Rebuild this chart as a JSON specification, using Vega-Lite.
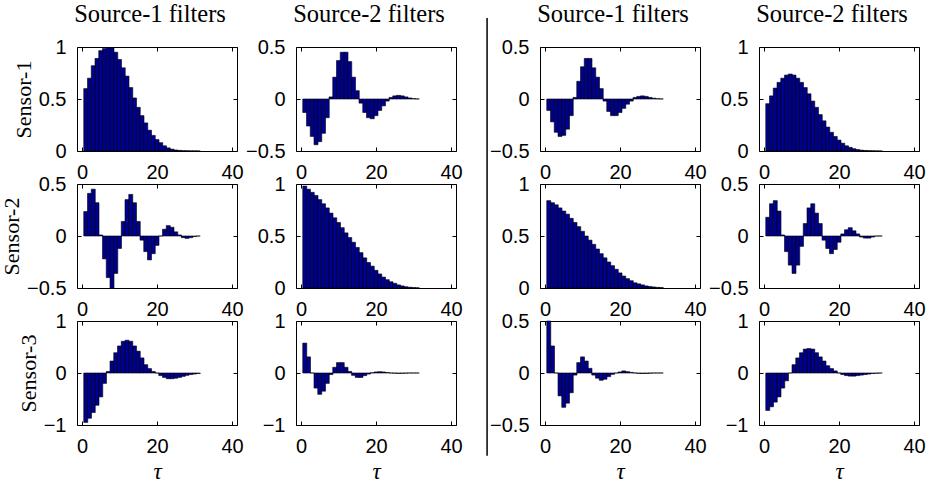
{
  "$schema": "https://vega.github.io/schema/vega-lite/v6.json",
  "background": "white",
  "padding": {"left": 0, "top": 1, "right": 0, "bottom": 2},
  "config": {
    "view": {"stroke": "black", "strokeWidth": 1},
    "axis": {"domain": false, "grid": false, "ticks": true, "tickSize": -4, "tickColor": "black", "tickWidth": 1,
      "labelFont": "Liberation Sans", "labelFontSize": 20, "labelColor": "black", "labelPadding": 15,
      "labelFlush": false, "labelOverlap": false,
      "titleFont": "Liberation Serif", "titleFontWeight": "normal", "titleColor": "black"},
    "axisX": {"titleFontSize": 23, "titlePadding": 4},
    "axisY": {"titleFontSize": 22, "titlePadding": 3},
    "title": {"font": "Liberation Serif", "fontSize": 24.5, "fontWeight": "normal", "color": "black", "frame": "group", "anchor": "middle", "offset": 10, "dx": -7}
  },
  "datasets": {
    "p11": [{"t":1,"v":0.6},{"t":2,"v":0.7},{"t":3,"v":0.82},{"t":4,"v":0.89},{"t":5,"v":0.965},{"t":6,"v":0.985},{"t":7,"v":0.995},{"t":8,"v":0.99},{"t":9,"v":0.95},{"t":10,"v":0.88},{"t":11,"v":0.8},{"t":12,"v":0.72},{"t":13,"v":0.61},{"t":14,"v":0.51},{"t":15,"v":0.42},{"t":16,"v":0.34},{"t":17,"v":0.27},{"t":18,"v":0.2},{"t":19,"v":0.15},{"t":20,"v":0.11},{"t":21,"v":0.08},{"t":22,"v":0.05},{"t":23,"v":0.03},{"t":24,"v":0.018},{"t":25,"v":0.01},{"t":26,"v":0.006},{"t":27,"v":0.003},{"t":28,"v":0.002},{"t":29,"v":0.001},{"t":30,"v":0.001},{"t":31,"v":0.0005}],
    "p12": [{"t":1,"v":-0.13},{"t":2,"v":-0.26},{"t":3,"v":-0.36},{"t":4,"v":-0.44},{"t":5,"v":-0.41},{"t":6,"v":-0.33},{"t":7,"v":-0.18},{"t":8,"v":0.02},{"t":9,"v":0.21},{"t":10,"v":0.37},{"t":11,"v":0.45},{"t":12,"v":0.45},{"t":13,"v":0.36},{"t":14,"v":0.21},{"t":15,"v":0.08},{"t":16,"v":-0.04},{"t":17,"v":-0.13},{"t":18,"v":-0.18},{"t":19,"v":-0.19},{"t":20,"v":-0.16},{"t":21,"v":-0.11},{"t":22,"v":-0.066},{"t":23,"v":-0.02},{"t":24,"v":0.015},{"t":25,"v":0.03},{"t":26,"v":0.035},{"t":27,"v":0.03},{"t":28,"v":0.02},{"t":29,"v":0.01},{"t":30,"v":0.004},{"t":31,"v":0.001}],
    "p13": [{"t":1,"v":-0.11},{"t":2,"v":-0.22},{"t":3,"v":-0.32},{"t":4,"v":-0.36},{"t":5,"v":-0.35},{"t":6,"v":-0.29},{"t":7,"v":-0.16},{"t":8,"v":0.015},{"t":9,"v":0.17},{"t":10,"v":0.31},{"t":11,"v":0.39},{"t":12,"v":0.39},{"t":13,"v":0.3},{"t":14,"v":0.21},{"t":15,"v":0.1},{"t":16,"v":-0.02},{"t":17,"v":-0.12},{"t":18,"v":-0.16},{"t":19,"v":-0.16},{"t":20,"v":-0.13},{"t":21,"v":-0.09},{"t":22,"v":-0.05},{"t":23,"v":-0.02},{"t":24,"v":0.015},{"t":25,"v":0.025},{"t":26,"v":0.03},{"t":27,"v":0.025},{"t":28,"v":0.015},{"t":29,"v":0.008},{"t":30,"v":0.003},{"t":31,"v":0.001}],
    "p14": [{"t":1,"v":0.455},{"t":2,"v":0.53},{"t":3,"v":0.605},{"t":4,"v":0.66},{"t":5,"v":0.7},{"t":6,"v":0.73},{"t":7,"v":0.74},{"t":8,"v":0.73},{"t":9,"v":0.7},{"t":10,"v":0.66},{"t":11,"v":0.61},{"t":12,"v":0.55},{"t":13,"v":0.48},{"t":14,"v":0.42},{"t":15,"v":0.35},{"t":16,"v":0.29},{"t":17,"v":0.23},{"t":18,"v":0.18},{"t":19,"v":0.14},{"t":20,"v":0.105},{"t":21,"v":0.075},{"t":22,"v":0.05},{"t":23,"v":0.035},{"t":24,"v":0.022},{"t":25,"v":0.014},{"t":26,"v":0.008},{"t":27,"v":0.005},{"t":28,"v":0.003},{"t":29,"v":0.002},{"t":30,"v":0.001},{"t":31,"v":0.0005}],
    "p21": [{"t":1,"v":0.235},{"t":2,"v":0.41},{"t":3,"v":0.45},{"t":4,"v":0.32},{"t":5,"v":0.01},{"t":6,"v":-0.22},{"t":7,"v":-0.4},{"t":8,"v":-0.5},{"t":9,"v":-0.36},{"t":10,"v":-0.12},{"t":11,"v":0.14},{"t":12,"v":0.35},{"t":13,"v":0.4},{"t":14,"v":0.32},{"t":15,"v":0.14},{"t":16,"v":-0.04},{"t":17,"v":-0.15},{"t":18,"v":-0.23},{"t":19,"v":-0.17},{"t":20,"v":-0.09},{"t":21,"v":0.0},{"t":22,"v":0.065},{"t":23,"v":0.1},{"t":24,"v":0.084},{"t":25,"v":0.04},{"t":26,"v":0.01},{"t":27,"v":-0.016},{"t":28,"v":-0.023},{"t":29,"v":-0.016},{"t":30,"v":-0.006},{"t":31,"v":0.0}],
    "p22": [{"t":1,"v":0.98},{"t":2,"v":0.95},{"t":3,"v":0.92},{"t":4,"v":0.89},{"t":5,"v":0.85},{"t":6,"v":0.81},{"t":7,"v":0.77},{"t":8,"v":0.72},{"t":9,"v":0.675},{"t":10,"v":0.63},{"t":11,"v":0.58},{"t":12,"v":0.53},{"t":13,"v":0.485},{"t":14,"v":0.44},{"t":15,"v":0.39},{"t":16,"v":0.34},{"t":17,"v":0.29},{"t":18,"v":0.245},{"t":19,"v":0.21},{"t":20,"v":0.17},{"t":21,"v":0.135},{"t":22,"v":0.105},{"t":23,"v":0.08},{"t":24,"v":0.06},{"t":25,"v":0.045},{"t":26,"v":0.03},{"t":27,"v":0.02},{"t":28,"v":0.012},{"t":29,"v":0.007},{"t":30,"v":0.004},{"t":31,"v":0.002}],
    "p23": [{"t":1,"v":0.84},{"t":2,"v":0.82},{"t":3,"v":0.8},{"t":4,"v":0.77},{"t":5,"v":0.74},{"t":6,"v":0.71},{"t":7,"v":0.67},{"t":8,"v":0.63},{"t":9,"v":0.59},{"t":10,"v":0.545},{"t":11,"v":0.5},{"t":12,"v":0.46},{"t":13,"v":0.42},{"t":14,"v":0.375},{"t":15,"v":0.33},{"t":16,"v":0.29},{"t":17,"v":0.25},{"t":18,"v":0.215},{"t":19,"v":0.18},{"t":20,"v":0.145},{"t":21,"v":0.115},{"t":22,"v":0.09},{"t":23,"v":0.07},{"t":24,"v":0.05},{"t":25,"v":0.04},{"t":26,"v":0.03},{"t":27,"v":0.02},{"t":28,"v":0.014},{"t":29,"v":0.01},{"t":30,"v":0.006},{"t":31,"v":0.004}],
    "p24": [{"t":1,"v":0.18},{"t":2,"v":0.31},{"t":3,"v":0.34},{"t":4,"v":0.24},{"t":5,"v":0.01},{"t":6,"v":-0.15},{"t":7,"v":-0.28},{"t":8,"v":-0.36},{"t":9,"v":-0.28},{"t":10,"v":-0.1},{"t":11,"v":0.12},{"t":12,"v":0.27},{"t":13,"v":0.31},{"t":14,"v":0.22},{"t":15,"v":0.12},{"t":16,"v":-0.04},{"t":17,"v":-0.12},{"t":18,"v":-0.17},{"t":19,"v":-0.13},{"t":20,"v":-0.06},{"t":21,"v":0.02},{"t":22,"v":0.06},{"t":23,"v":0.08},{"t":24,"v":0.05},{"t":25,"v":0.02},{"t":26,"v":-0.01},{"t":27,"v":-0.02},{"t":28,"v":-0.02},{"t":29,"v":-0.01},{"t":30,"v":0.0},{"t":31,"v":0.0}],
    "p31": [{"t":1,"v":-0.95},{"t":2,"v":-0.87},{"t":3,"v":-0.76},{"t":4,"v":-0.62},{"t":5,"v":-0.46},{"t":6,"v":-0.2},{"t":7,"v":0.03},{"t":8,"v":0.23},{"t":9,"v":0.39},{"t":10,"v":0.52},{"t":11,"v":0.61},{"t":12,"v":0.63},{"t":13,"v":0.61},{"t":14,"v":0.52},{"t":15,"v":0.42},{"t":16,"v":0.29},{"t":17,"v":0.16},{"t":18,"v":0.085},{"t":19,"v":0.03},{"t":20,"v":0.0},{"t":21,"v":-0.05},{"t":22,"v":-0.085},{"t":23,"v":-0.11},{"t":24,"v":-0.11},{"t":25,"v":-0.1},{"t":26,"v":-0.085},{"t":27,"v":-0.065},{"t":28,"v":-0.045},{"t":29,"v":-0.03},{"t":30,"v":-0.02},{"t":31,"v":-0.01}],
    "p32": [{"t":1,"v":0.575},{"t":2,"v":0.31},{"t":3,"v":0.0},{"t":4,"v":-0.29},{"t":5,"v":-0.41},{"t":6,"v":-0.35},{"t":7,"v":-0.2},{"t":8,"v":-0.03},{"t":9,"v":0.11},{"t":10,"v":0.2},{"t":11,"v":0.2},{"t":12,"v":0.11},{"t":13,"v":0.03},{"t":14,"v":-0.045},{"t":15,"v":-0.085},{"t":16,"v":-0.085},{"t":17,"v":-0.05},{"t":18,"v":-0.02},{"t":19,"v":0.005},{"t":20,"v":0.02},{"t":21,"v":0.025},{"t":22,"v":0.02},{"t":23,"v":0.01},{"t":24,"v":0.0},{"t":25,"v":-0.005},{"t":26,"v":-0.008},{"t":27,"v":-0.006},{"t":28,"v":-0.003},{"t":29,"v":0.0},{"t":30,"v":0.0},{"t":31,"v":0.0}],
    "p33": [{"t":1,"v":0.5},{"t":2,"v":0.26},{"t":3,"v":0.0},{"t":4,"v":-0.22},{"t":5,"v":-0.33},{"t":6,"v":-0.29},{"t":7,"v":-0.19},{"t":8,"v":-0.02},{"t":9,"v":0.1},{"t":10,"v":0.155},{"t":11,"v":0.115},{"t":12,"v":0.045},{"t":13,"v":-0.02},{"t":14,"v":-0.05},{"t":15,"v":-0.07},{"t":16,"v":-0.06},{"t":17,"v":-0.035},{"t":18,"v":-0.013},{"t":19,"v":0.0},{"t":20,"v":0.01},{"t":21,"v":0.02},{"t":22,"v":0.013},{"t":23,"v":0.006},{"t":24,"v":0.0},{"t":25,"v":-0.004},{"t":26,"v":-0.005},{"t":27,"v":-0.004},{"t":28,"v":-0.002},{"t":29,"v":0.0},{"t":30,"v":0.0},{"t":31,"v":0.0}],
    "p34": [{"t":1,"v":-0.72},{"t":2,"v":-0.65},{"t":3,"v":-0.56},{"t":4,"v":-0.46},{"t":5,"v":-0.29},{"t":6,"v":-0.15},{"t":7,"v":0.0},{"t":8,"v":0.16},{"t":9,"v":0.29},{"t":10,"v":0.39},{"t":11,"v":0.46},{"t":12,"v":0.47},{"t":13,"v":0.46},{"t":14,"v":0.39},{"t":15,"v":0.31},{"t":16,"v":0.23},{"t":17,"v":0.14},{"t":18,"v":0.085},{"t":19,"v":0.04},{"t":20,"v":0.0},{"t":21,"v":-0.03},{"t":22,"v":-0.05},{"t":23,"v":-0.06},{"t":24,"v":-0.06},{"t":25,"v":-0.05},{"t":26,"v":-0.04},{"t":27,"v":-0.03},{"t":28,"v":-0.02},{"t":29,"v":-0.01},{"t":30,"v":-0.005},{"t":31,"v":0.0}]
  },
  "columns": 7,
  "spacing": {"row": 33, "column": 0},
  "bounds": "flush",
  "align": "each",
  "concat": [
    {"width":160,"height":104,"data":{"name":"p11"},"title":{"text":"Source-1 filters"},
     "layer":[
      {"mark":{"type":"bar","orient":"vertical","width":4,"fill":"#00008F","stroke":"black","strokeWidth":0.6},
       "encoding":{"x":{"field":"t","type":"quantitative","scale":{"domain":[0,40],"nice":false,"zero":false},"axis":{"values":[0,20,40],"format":"d","title":null}},
                   "y":{"field":"v","type":"quantitative","scale":{"domain":[0,1],"nice":false},"axis":{"values":[0,0.5,1],"format":".1~f","title":"Sensor-1"}}}},
      {"mark":{"type":"point","opacity":0},
       "encoding":{"x":{"field":"t","type":"quantitative","axis":{"orient":"top","values":[0,20,40],"labels":false,"title":null}},
                   "y":{"field":"v","type":"quantitative","axis":{"orient":"right","values":[0,0.5,1],"labels":false,"title":null}}}}],
     "resolve":{"axis":{"x":"independent","y":"independent"}}},
    {"width":59,"height":104,"view":{"stroke":null},"data":{"values":[]},"mark":"rule","encoding":{}},
    {"width":160,"height":104,"data":{"name":"p12"},"title":{"text":"Source-2 filters"},
     "layer":[
      {"mark":{"type":"bar","orient":"vertical","width":4,"fill":"#00008F","stroke":"black","strokeWidth":0.6},
       "encoding":{"x":{"field":"t","type":"quantitative","scale":{"domain":[0,40],"nice":false,"zero":false},"axis":{"values":[0,20,40],"format":"d","title":null}},
                   "y":{"field":"v","type":"quantitative","scale":{"domain":[-0.5,0.5],"nice":false},"axis":{"values":[-0.5,0,0.5],"format":".1~f","title":null}}}},
      {"mark":{"type":"point","opacity":0},
       "encoding":{"x":{"field":"t","type":"quantitative","axis":{"orient":"top","values":[0,20,40],"labels":false,"title":null}},
                   "y":{"field":"v","type":"quantitative","axis":{"orient":"right","values":[-0.5,0,0.5],"labels":false,"title":null}}}}],
     "resolve":{"axis":{"x":"independent","y":"independent"}}},
    {"width":84,"height":104,"view":{"stroke":null},"data":{"values":[{}]},
     "mark":{"type":"rule","color":"black","strokeWidth":1.5},
     "encoding":{"x":{"datum":0.37,"type":"quantitative","scale":{"domain":[0,1]},"axis":null},
                 "y":{"datum":1.28,"type":"quantitative","scale":{"domain":[0,1]},"axis":null},
                 "y2":{"datum":-2.93}}},
    {"width":160,"height":104,"data":{"name":"p13"},"title":{"text":"Source-1 filters"},
     "layer":[
      {"mark":{"type":"bar","orient":"vertical","width":4,"fill":"#00008F","stroke":"black","strokeWidth":0.6},
       "encoding":{"x":{"field":"t","type":"quantitative","scale":{"domain":[0,40],"nice":false,"zero":false},"axis":{"values":[0,20,40],"format":"d","title":null}},
                   "y":{"field":"v","type":"quantitative","scale":{"domain":[-0.5,0.5],"nice":false},"axis":{"values":[-0.5,0,0.5],"format":".1~f","title":null}}}},
      {"mark":{"type":"point","opacity":0},
       "encoding":{"x":{"field":"t","type":"quantitative","axis":{"orient":"top","values":[0,20,40],"labels":false,"title":null}},
                   "y":{"field":"v","type":"quantitative","axis":{"orient":"right","values":[-0.5,0,0.5],"labels":false,"title":null}}}}],
     "resolve":{"axis":{"x":"independent","y":"independent"}}},
    {"width":59,"height":104,"view":{"stroke":null},"data":{"values":[]},"mark":"rule","encoding":{}},
    {"width":160,"height":104,"data":{"name":"p14"},"title":{"text":"Source-2 filters"},
     "layer":[
      {"mark":{"type":"bar","orient":"vertical","width":4,"fill":"#00008F","stroke":"black","strokeWidth":0.6},
       "encoding":{"x":{"field":"t","type":"quantitative","scale":{"domain":[0,40],"nice":false,"zero":false},"axis":{"values":[0,20,40],"format":"d","title":null}},
                   "y":{"field":"v","type":"quantitative","scale":{"domain":[0,1],"nice":false},"axis":{"values":[0,0.5,1],"format":".1~f","title":null}}}},
      {"mark":{"type":"point","opacity":0},
       "encoding":{"x":{"field":"t","type":"quantitative","axis":{"orient":"top","values":[0,20,40],"labels":false,"title":null}},
                   "y":{"field":"v","type":"quantitative","axis":{"orient":"right","values":[0,0.5,1],"labels":false,"title":null}}}}],
     "resolve":{"axis":{"x":"independent","y":"independent"}}},

    {"width":160,"height":104,"data":{"name":"p21"},
     "layer":[
      {"mark":{"type":"bar","orient":"vertical","width":4,"fill":"#00008F","stroke":"black","strokeWidth":0.6},
       "encoding":{"x":{"field":"t","type":"quantitative","scale":{"domain":[0,40],"nice":false,"zero":false},"axis":{"values":[0,20,40],"format":"d","title":null}},
                   "y":{"field":"v","type":"quantitative","scale":{"domain":[-0.5,0.5],"nice":false},"axis":{"values":[-0.5,0,0.5],"format":".1~f","title":"Sensor-2"}}}},
      {"mark":{"type":"point","opacity":0},
       "encoding":{"x":{"field":"t","type":"quantitative","axis":{"orient":"top","values":[0,20,40],"labels":false,"title":null}},
                   "y":{"field":"v","type":"quantitative","axis":{"orient":"right","values":[-0.5,0,0.5],"labels":false,"title":null}}}}],
     "resolve":{"axis":{"x":"independent","y":"independent"}}},
    {"width":59,"height":104,"view":{"stroke":null},"data":{"values":[]},"mark":"rule","encoding":{}},
    {"width":160,"height":104,"data":{"name":"p22"},
     "layer":[
      {"mark":{"type":"bar","orient":"vertical","width":4,"fill":"#00008F","stroke":"black","strokeWidth":0.6},
       "encoding":{"x":{"field":"t","type":"quantitative","scale":{"domain":[0,40],"nice":false,"zero":false},"axis":{"values":[0,20,40],"format":"d","title":null}},
                   "y":{"field":"v","type":"quantitative","scale":{"domain":[0,1],"nice":false},"axis":{"values":[0,0.5,1],"format":".1~f","title":null}}}},
      {"mark":{"type":"point","opacity":0},
       "encoding":{"x":{"field":"t","type":"quantitative","axis":{"orient":"top","values":[0,20,40],"labels":false,"title":null}},
                   "y":{"field":"v","type":"quantitative","axis":{"orient":"right","values":[0,0.5,1],"labels":false,"title":null}}}}],
     "resolve":{"axis":{"x":"independent","y":"independent"}}},
    {"width":84,"height":104,"view":{"stroke":null},"data":{"values":[]},"mark":"rule","encoding":{}},
    {"width":160,"height":104,"data":{"name":"p23"},
     "layer":[
      {"mark":{"type":"bar","orient":"vertical","width":4,"fill":"#00008F","stroke":"black","strokeWidth":0.6},
       "encoding":{"x":{"field":"t","type":"quantitative","scale":{"domain":[0,40],"nice":false,"zero":false},"axis":{"values":[0,20,40],"format":"d","title":null}},
                   "y":{"field":"v","type":"quantitative","scale":{"domain":[0,1],"nice":false},"axis":{"values":[0,0.5,1],"format":".1~f","title":null}}}},
      {"mark":{"type":"point","opacity":0},
       "encoding":{"x":{"field":"t","type":"quantitative","axis":{"orient":"top","values":[0,20,40],"labels":false,"title":null}},
                   "y":{"field":"v","type":"quantitative","axis":{"orient":"right","values":[0,0.5,1],"labels":false,"title":null}}}}],
     "resolve":{"axis":{"x":"independent","y":"independent"}}},
    {"width":59,"height":104,"view":{"stroke":null},"data":{"values":[]},"mark":"rule","encoding":{}},
    {"width":160,"height":104,"data":{"name":"p24"},
     "layer":[
      {"mark":{"type":"bar","orient":"vertical","width":4,"fill":"#00008F","stroke":"black","strokeWidth":0.6},
       "encoding":{"x":{"field":"t","type":"quantitative","scale":{"domain":[0,40],"nice":false,"zero":false},"axis":{"values":[0,20,40],"format":"d","title":null}},
                   "y":{"field":"v","type":"quantitative","scale":{"domain":[-0.5,0.5],"nice":false},"axis":{"values":[-0.5,0,0.5],"format":".1~f","title":null}}}},
      {"mark":{"type":"point","opacity":0},
       "encoding":{"x":{"field":"t","type":"quantitative","axis":{"orient":"top","values":[0,20,40],"labels":false,"title":null}},
                   "y":{"field":"v","type":"quantitative","axis":{"orient":"right","values":[-0.5,0,0.5],"labels":false,"title":null}}}}],
     "resolve":{"axis":{"x":"independent","y":"independent"}}},

    {"width":160,"height":104,"data":{"name":"p31"},
     "layer":[
      {"mark":{"type":"bar","orient":"vertical","width":4,"fill":"#00008F","stroke":"black","strokeWidth":0.6},
       "encoding":{"x":{"field":"t","type":"quantitative","scale":{"domain":[0,40],"nice":false,"zero":false},"axis":{"values":[0,20,40],"format":"d","title":"τ","titleFontStyle":"italic"}},
                   "y":{"field":"v","type":"quantitative","scale":{"domain":[-1,1],"nice":false},"axis":{"values":[-1,0,1],"format":".1~f","title":"Sensor-3"}}}},
      {"mark":{"type":"point","opacity":0},
       "encoding":{"x":{"field":"t","type":"quantitative","axis":{"orient":"top","values":[0,20,40],"labels":false,"title":null}},
                   "y":{"field":"v","type":"quantitative","axis":{"orient":"right","values":[-1,0,1],"labels":false,"title":null}}}}],
     "resolve":{"axis":{"x":"independent","y":"independent"}}},
    {"width":59,"height":104,"view":{"stroke":null},"data":{"values":[]},"mark":"rule","encoding":{}},
    {"width":160,"height":104,"data":{"name":"p32"},
     "layer":[
      {"mark":{"type":"bar","orient":"vertical","width":4,"fill":"#00008F","stroke":"black","strokeWidth":0.6},
       "encoding":{"x":{"field":"t","type":"quantitative","scale":{"domain":[0,40],"nice":false,"zero":false},"axis":{"values":[0,20,40],"format":"d","title":"τ","titleFontStyle":"italic"}},
                   "y":{"field":"v","type":"quantitative","scale":{"domain":[-1,1],"nice":false},"axis":{"values":[-1,0,1],"format":".1~f","title":null}}}},
      {"mark":{"type":"point","opacity":0},
       "encoding":{"x":{"field":"t","type":"quantitative","axis":{"orient":"top","values":[0,20,40],"labels":false,"title":null}},
                   "y":{"field":"v","type":"quantitative","axis":{"orient":"right","values":[-1,0,1],"labels":false,"title":null}}}}],
     "resolve":{"axis":{"x":"independent","y":"independent"}}},
    {"width":84,"height":104,"view":{"stroke":null},"data":{"values":[]},"mark":"rule","encoding":{}},
    {"width":160,"height":104,"data":{"name":"p33"},
     "layer":[
      {"mark":{"type":"bar","orient":"vertical","width":4,"fill":"#00008F","stroke":"black","strokeWidth":0.6},
       "encoding":{"x":{"field":"t","type":"quantitative","scale":{"domain":[0,40],"nice":false,"zero":false},"axis":{"values":[0,20,40],"format":"d","title":"τ","titleFontStyle":"italic"}},
                   "y":{"field":"v","type":"quantitative","scale":{"domain":[-0.5,0.5],"nice":false},"axis":{"values":[-0.5,0,0.5],"format":".1~f","title":null}}}},
      {"mark":{"type":"point","opacity":0},
       "encoding":{"x":{"field":"t","type":"quantitative","axis":{"orient":"top","values":[0,20,40],"labels":false,"title":null}},
                   "y":{"field":"v","type":"quantitative","axis":{"orient":"right","values":[-0.5,0,0.5],"labels":false,"title":null}}}}],
     "resolve":{"axis":{"x":"independent","y":"independent"}}},
    {"width":59,"height":104,"view":{"stroke":null},"data":{"values":[]},"mark":"rule","encoding":{}},
    {"width":160,"height":104,"data":{"name":"p34"},
     "layer":[
      {"mark":{"type":"bar","orient":"vertical","width":4,"fill":"#00008F","stroke":"black","strokeWidth":0.6},
       "encoding":{"x":{"field":"t","type":"quantitative","scale":{"domain":[0,40],"nice":false,"zero":false},"axis":{"values":[0,20,40],"format":"d","title":"τ","titleFontStyle":"italic"}},
                   "y":{"field":"v","type":"quantitative","scale":{"domain":[-1,1],"nice":false},"axis":{"values":[-1,0,1],"format":".1~f","title":null}}}},
      {"mark":{"type":"point","opacity":0},
       "encoding":{"x":{"field":"t","type":"quantitative","axis":{"orient":"top","values":[0,20,40],"labels":false,"title":null}},
                   "y":{"field":"v","type":"quantitative","axis":{"orient":"right","values":[-1,0,1],"labels":false,"title":null}}}}],
     "resolve":{"axis":{"x":"independent","y":"independent"}}}
  ]
}
